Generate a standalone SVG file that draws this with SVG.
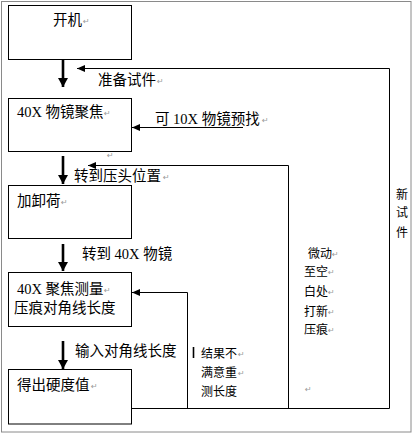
<svg xmlns="http://www.w3.org/2000/svg" width="413" height="434" viewBox="0 0 413 434">
<style>
.box{fill:#fff;stroke:#000;stroke-width:1}
.t{font-family:'Liberation Serif','Noto Sans CJK SC',serif;font-size:14.5px;fill:#000}
.s{font-family:'Liberation Serif','Noto Sans CJK SC',serif;font-size:12px;fill:#000}
.pm{font-family:'DejaVu Sans',sans-serif;font-size:8px;fill:#999}
.ln{fill:none;stroke:#000;stroke-width:1}
.thick{fill:none;stroke:#000;stroke-width:2.6}
</style>
<defs>
<marker id="ah" markerUnits="userSpaceOnUse" markerWidth="10" markerHeight="8" refX="8" refY="4" orient="auto">
<path d="M0,0.5 L8,4 L0,7.5 Z" fill="#000"/>
</marker>
<marker id="ahT" markerUnits="userSpaceOnUse" markerWidth="12" markerHeight="12" refX="9" refY="5" orient="auto">
<path d="M0,0 L9,5 L0,10 Z" fill="#000"/>
</marker>
</defs>
<rect x="0" y="0" width="413" height="434" fill="#fff"/>
<rect x="1.5" y="1.5" width="409.5" height="430.5" fill="none" stroke="#8a8a8a" stroke-width="1"/>

<g id="connectors">
<line class="thick" x1="63" y1="60" x2="63" y2="87" marker-end="url(#ahT)"/>
<line class="thick" x1="63" y1="156" x2="63" y2="184" marker-end="url(#ahT)"/>
<line class="thick" x1="63" y1="244" x2="63" y2="271" marker-end="url(#ahT)"/>
<line class="thick" x1="63" y1="341" x2="63" y2="369" marker-end="url(#ahT)"/>
<polyline class="ln" points="389.5,408.5 389.5,68.5 77,68.5" marker-end="url(#ah)"/>
<line class="ln" x1="243" y1="127.5" x2="132" y2="127.5" marker-end="url(#ah)"/>
<polyline class="ln" points="288.5,408.5 288.5,165.5 88,165.5" marker-end="url(#ah)"/>
<polyline class="ln" points="187.5,408.5 187.5,292.5 132,292.5" marker-end="url(#ah)"/>
<line class="ln" x1="131.5" y1="408.5" x2="389.5" y2="408.5"/>
<line x1="193.5" y1="347" x2="193.5" y2="358" stroke="#000" stroke-width="1.6"/>
</g>

<g id="n1">
<rect class="box" x="8.5" y="5.5" width="123" height="54"/>
<text class="t" x="53" y="25">开机</text><text class="pm" x="83" y="24">↵</text>
</g>
<g id="n2">
<rect class="box" x="8.5" y="98.5" width="123" height="53"/>
<text class="t" x="17" y="117">40X 物镜聚焦</text><text class="pm" x="104" y="116">↵</text>
</g>
<g id="n3">
<rect class="box" x="8.5" y="185.5" width="123" height="53"/>
<text class="t" x="17" y="206">加卸荷</text><text class="pm" x="61" y="205">↵</text>
</g>
<g id="n4">
<rect class="box" x="8.5" y="272.5" width="123" height="54"/>
<text class="t" x="17" y="294">40X 聚焦测量</text><text class="pm" x="104" y="293">↵</text>
<text class="t" x="14" y="313">压痕对角线长度</text>
</g>
<g id="n5">
<rect class="box" x="8.5" y="369.5" width="123" height="54.5"/>
<text class="t" x="17" y="390">得出硬度值</text><text class="pm" x="91" y="389">↵</text>
</g>

<g id="labels">
<text class="t" x="98" y="85">准备试件</text><text class="pm" x="157" y="84">↵</text>
<text class="t" x="155" y="124">可 10X 物镜预找</text><text class="pm" x="262" y="123">↵</text>
<text class="pm" x="107" y="158">↵</text>
<text class="t" x="74" y="181">转到压头位置</text><text class="pm" x="163" y="180">↵</text>
<text class="t" x="82" y="259">转到 40X 物镜</text>
<text class="t" x="75" y="356">输入对角线长度</text>
<text class="s" x="201" y="358">结果不</text><text class="pm" x="238" y="357">↵</text>
<text class="s" x="201" y="377">满意重</text><text class="pm" x="238" y="376">↵</text>
<text class="s" x="201" y="396">测长度</text>
<text class="s" x="308" y="258">微动</text><text class="pm" x="332" y="257">↵</text>
<text class="s" x="304" y="276">至空</text><text class="pm" x="328" y="275">↵</text>
<text class="s" x="304" y="296">白处</text><text class="pm" x="328" y="295">↵</text>
<text class="s" x="304" y="316">打新</text><text class="pm" x="328" y="315">↵</text>
<text class="s" x="304" y="334">压痕</text><text class="pm" x="328" y="333">↵</text>
<text class="pm" x="305" y="392">↵</text>
<text class="s" x="396" y="199">新</text>
<text class="s" x="396" y="217">试</text>
<text class="s" x="396" y="237">件</text>
</g>
</svg>
